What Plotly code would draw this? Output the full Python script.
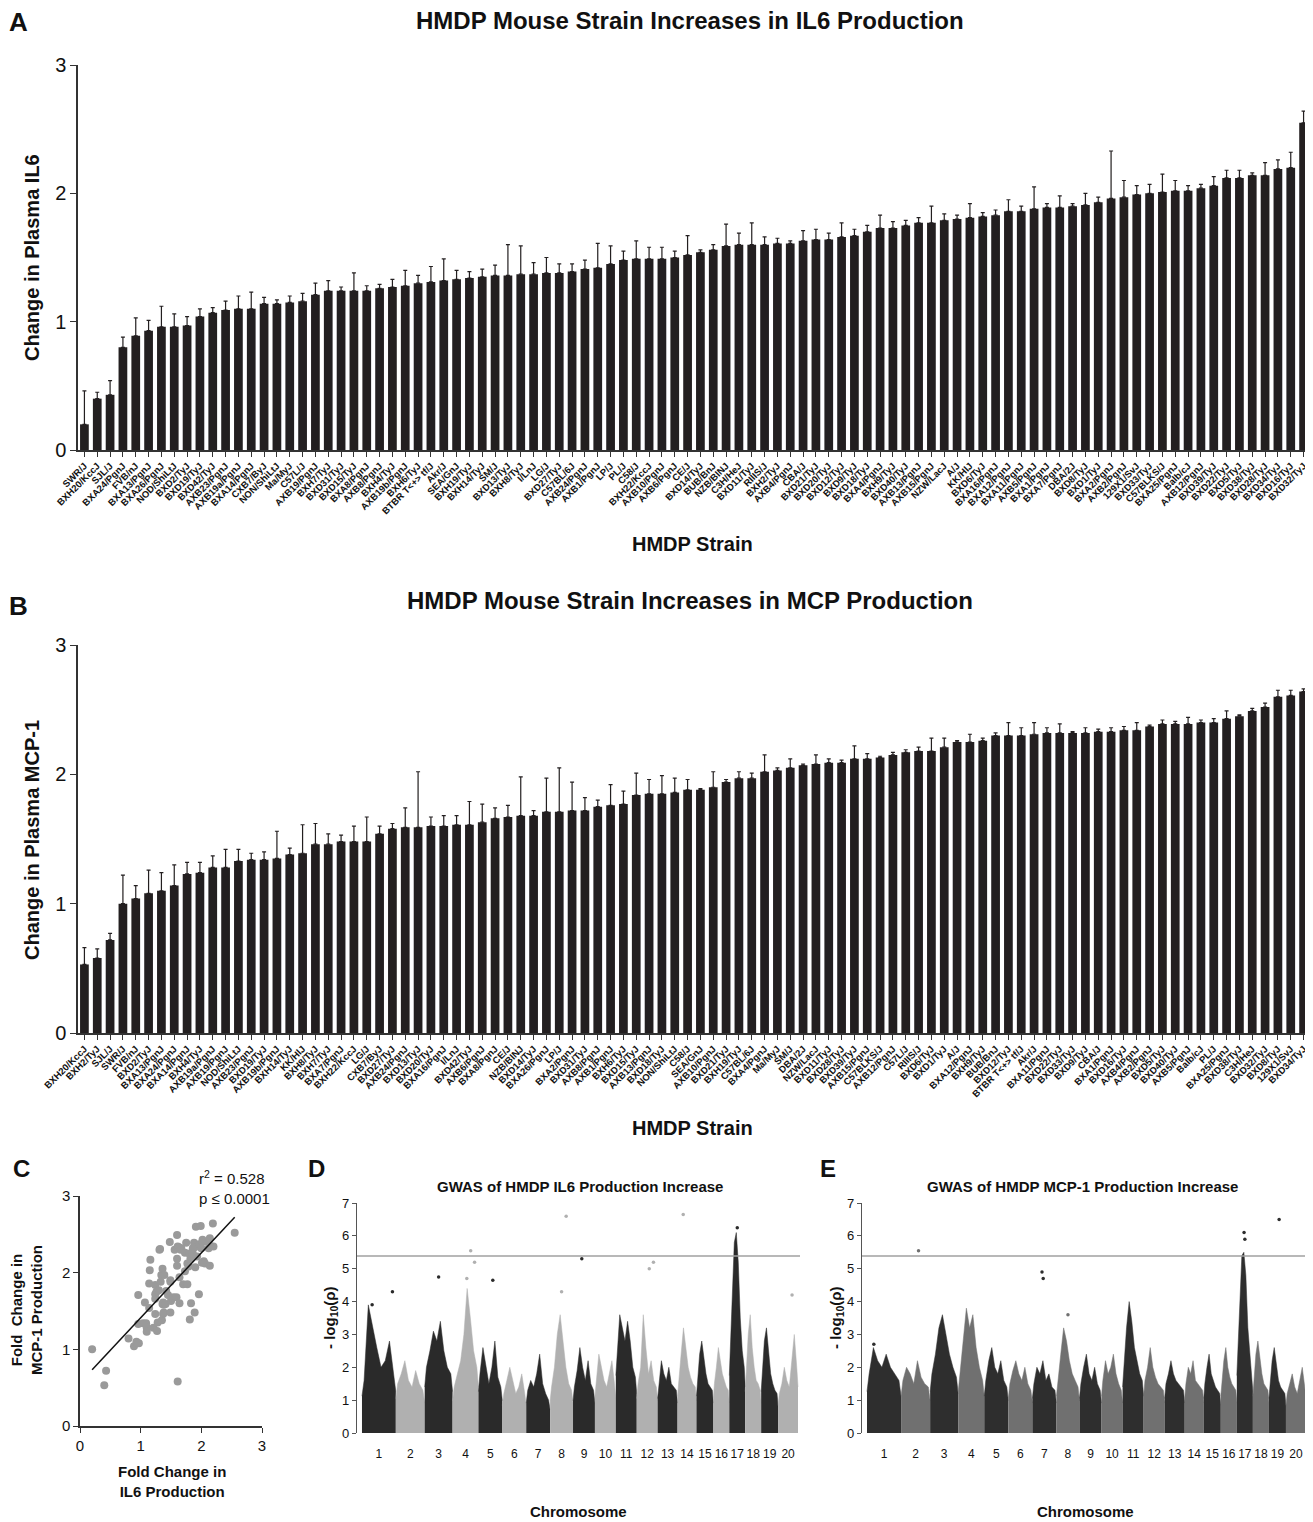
import numpy as np
import plotly.graph_objects as go

# page body has an 8px margin: lay out in reference-pixel coordinates, shifted by OFF
OFF = 8
W, H = 1313 - OFF, 1522 - OFF
FONT = "Liberation Sans, Arial, Helvetica, sans-serif"
BAR = "#231f20"
AX = "#333333"


def fx(px):
    return (px - OFF) / W


def fy(py):
    return 1 - (py - OFF) / H


# ---------------- Panel A data (IL6) ----------------
strains_il6 = ["SWR/J", "BXH20/KccJ", "SJL/J", "BXA24/PgnJ", "FVB/nJ", "BXA13/PgnJ", "BXA26/PgnJ",
               "NOD/ShiLtJ", "BXD2/TyJ", "BXD19/TyJ", "BXD42/TyJ", "AXB23/PgnJ", "AXB19a/PgnJ",
               "BXA14/PgnJ", "CXB7/ByJ", "NON/ShiLtJ", "Ma/MyJ", "C57L/J", "AXB19/PgnJ", "BXH7/TyJ",
               "BXD31/TyJ", "BXD15/TyJ", "BXA8/PgnJ", "AXB8/PgnJ", "BXH4/TyJ", "AXB19b/PgnJ",
               "BXH6/TyJ", "BTBR T&lt;+&gt; tf/J", "Akr/J", "SEA/GnJ", "BXH19/TyJ", "BXH14/TyJ", "SM/J",
               "BXD13/TyJ", "BXH8/TyJ", "I/LnJ", "LG/J", "BXD27/TyJ", "C57BL/6J", "AXB24/PgnJ",
               "AXB1/PgnJ", "LP/J", "PL/J", "C58/J", "BXH22/KccJ", "AXB10/PgnJ", "AXB6/PgnJ", "CE/J",
               "BXD14/TyJ", "BUB/BnJ", "NZB/BlNJ", "C3H/HeJ", "BXD11/TyJ", "RIIIS/J", "BXH2/TyJ",
               "AXB4/PgnJ", "CBA/J", "BXD21/TyJ", "BXD20/TyJ", "BXD12/TyJ", "BXD9/TyJ", "BXD18/TyJ",
               "BXA4/PgnJ", "BXH9/TyJ", "BXD40/TyJ", "AXB13/PgnJ", "AXB15/PgnJ", "NZW/LacJ", "A/J",
               "KK/HlJ", "BXD6/TyJ", "BXA16/PgnJ", "BXA12/PgnJ", "BXA11/PgnJ", "AXB5/PgnJ",
               "BXA1/PgnJ", "BXA7/PgnJ", "DBA/2J", "BXD8/TyJ", "BXD1/TyJ", "BXA2/PgnJ", "AXB2/PgnJ",
               "129X1/SvJ", "BXD33/TyJ", "C57BLKS/J", "BXA25/PgnJ", "Balb/cJ", "AXB12/PgnJ",
               "BXD39/TyJ", "BXD22/TyJ", "BXD5/TyJ", "BXD38/TyJ", "BXD28/TyJ", "BXD34/TyJ",
               "BXD16/TyJ", "BXD32/TyJ"]
il6_mean = [0.20, 0.40, 0.43, 0.80, 0.89, 0.93, 0.96, 0.96, 0.97, 1.04, 1.07, 1.09, 1.10, 1.10,
            1.14, 1.14, 1.15, 1.16, 1.21, 1.24, 1.24, 1.24, 1.24, 1.26, 1.27, 1.28, 1.30, 1.31,
            1.32, 1.33, 1.34, 1.35, 1.36, 1.36, 1.37, 1.37, 1.38, 1.38, 1.39, 1.41, 1.42, 1.45,
            1.48, 1.49, 1.49, 1.49, 1.50, 1.52, 1.54, 1.56, 1.59, 1.60, 1.60, 1.60, 1.61, 1.61,
            1.63, 1.64, 1.64, 1.66, 1.67, 1.70, 1.73, 1.73, 1.75, 1.77, 1.77, 1.79, 1.80, 1.81,
            1.82, 1.83, 1.86, 1.86, 1.88, 1.89, 1.89, 1.90, 1.91, 1.93, 1.96, 1.97, 1.99, 2.00,
            2.01, 2.02, 2.02, 2.04, 2.06, 2.12, 2.12, 2.14, 2.14, 2.19, 2.20, 2.55]
il6_sem = [0.26, 0.05, 0.11, 0.08, 0.14, 0.08, 0.16, 0.10, 0.07, 0.06, 0.04, 0.07, 0.10, 0.13,
           0.05, 0.03, 0.05, 0.06, 0.09, 0.08, 0.03, 0.14, 0.04, 0.03, 0.06, 0.12, 0.06, 0.12,
           0.17, 0.07, 0.05, 0.06, 0.08, 0.24, 0.22, 0.09, 0.12, 0.07, 0.06, 0.07, 0.19, 0.14,
           0.07, 0.14, 0.09, 0.09, 0.05, 0.15, 0.02, 0.04, 0.17, 0.09, 0.17, 0.06, 0.04, 0.02,
           0.08, 0.08, 0.05, 0.11, 0.05, 0.05, 0.10, 0.05, 0.04, 0.04, 0.13, 0.05, 0.03, 0.11,
           0.03, 0.04, 0.09, 0.04, 0.17, 0.03, 0.09, 0.02, 0.09, 0.04, 0.37, 0.13, 0.07, 0.07,
           0.14, 0.08, 0.04, 0.03, 0.07, 0.06, 0.06, 0.02, 0.10, 0.07, 0.12, 0.09]

# ---------------- Panel B data (MCP-1) ----------------
strains_mcp = ["BXH20/KccJ", "BXH2/TyJ", "SJL/J", "SWR/J", "FVB/nJ", "BXD2/TyJ", "BXA13/PgnJ",
               "BXA24/PgnJ", "BXA14/PgnJ", "BXH4/TyJ", "AXB19a/PgnJ", "AXB19/PgnJ", "NOD/ShiLtJ",
               "AXB23/PgnJ", "BXD19/TyJ", "AXB19b/PgnJ", "BXH14/TyJ", "KK/HlJ", "BXH8/TyJ",
               "BXH7/TyJ", "BXA7/PgnJ", "BXH22/KccJ", "LG/J", "CXB7/ByJ", "BXD27/TyJ", "AXB24/PgnJ",
               "BXD13/TyJ", "BXD20/TyJ", "BXA16/PgnJ", "I/LnJ", "BXD42/TyJ", "AXB6/PgnJ",
               "BXA8/PgnJ", "CE/J", "NZB/BlNJ", "BXD14/TyJ", "BXA26/PgnJ", "LP/J", "BXA2/PgnJ",
               "BXD31/TyJ", "AXB8/PgnJ", "AXB1/PgnJ", "BXH6/TyJ", "BXD15/TyJ", "AXB13/PgnJ",
               "BXD18/TyJ", "NON/ShiLtJ", "C58/J", "SEA/GnJ", "AXB10/PgnJ", "BXD21/TyJ",
               "BXH19/TyJ", "C57BL/6J", "BXA4/PgnJ", "Ma/MyJ", "SM/J", "DBA/2J", "NZW/LacJ",
               "BXD11/TyJ", "BXD28/TyJ", "BXD39/TyJ", "AXB15/PgnJ", "C57BLKS/J", "AXB12/PgnJ",
               "C57L/J", "RIIIS/J", "BXD6/TyJ", "BXD1/TyJ", "A/J", "BXA12/PgnJ", "BXH9/TyJ",
               "BUB/BnJ", "BXD12/TyJ", "BTBR T&lt;+&gt; tf/J", "Akr/J", "BXA11/PgnJ", "BXD22/TyJ",
               "BXD33/TyJ", "BXD9/TyJ", "CBA/J", "BXA1/PgnJ", "BXD16/TyJ", "AXB4/PgnJ",
               "AXB2/PgnJ", "BXD5/TyJ", "BXD40/TyJ", "AXB5/PgnJ", "Balb/cJ", "PL/J", "BXA25/PgnJ",
               "BXD38/TyJ", "C3H/HeJ", "BXD32/TyJ", "BXD8/TyJ", "129X1/SvJ", "BXD34/TyJ"]
mcp_mean = [0.53, 0.58, 0.72, 1.00, 1.04, 1.08, 1.10, 1.14, 1.23, 1.24, 1.28, 1.28, 1.33, 1.34,
            1.34, 1.35, 1.38, 1.39, 1.46, 1.46, 1.48, 1.48, 1.48, 1.54, 1.58, 1.59, 1.59, 1.60,
            1.60, 1.61, 1.61, 1.63, 1.66, 1.67, 1.68, 1.68, 1.71, 1.71, 1.72, 1.72, 1.75, 1.76,
            1.77, 1.84, 1.85, 1.85, 1.86, 1.88, 1.88, 1.90, 1.94, 1.97, 1.97, 2.02, 2.03, 2.05,
            2.07, 2.08, 2.09, 2.09, 2.12, 2.12, 2.13, 2.15, 2.17, 2.18, 2.18, 2.21, 2.25, 2.25,
            2.26, 2.30, 2.30, 2.30, 2.31, 2.32, 2.32, 2.32, 2.32, 2.33, 2.33, 2.34, 2.34, 2.37,
            2.39, 2.39, 2.39, 2.40, 2.40, 2.43, 2.45, 2.49, 2.52, 2.60, 2.61, 2.64]
mcp_sem = [0.13, 0.07, 0.05, 0.22, 0.10, 0.18, 0.14, 0.16, 0.09, 0.08, 0.09, 0.14, 0.09, 0.05,
           0.06, 0.21, 0.05, 0.22, 0.16, 0.08, 0.05, 0.12, 0.19, 0.06, 0.04, 0.15, 0.43, 0.07,
           0.08, 0.07, 0.18, 0.14, 0.08, 0.09, 0.30, 0.04, 0.26, 0.34, 0.22, 0.10, 0.05, 0.16,
           0.10, 0.17, 0.11, 0.14, 0.11, 0.08, 0.01, 0.12, 0.02, 0.05, 0.04, 0.13, 0.02, 0.07,
           0.01, 0.07, 0.03, 0.02, 0.10, 0.04, 0.01, 0.02, 0.02, 0.03, 0.10, 0.07, 0.01, 0.06,
           0.02, 0.02, 0.10, 0.06, 0.09, 0.04, 0.07, 0.01, 0.04, 0.02, 0.03, 0.03, 0.06, 0.01,
           0.03, 0.02, 0.05, 0.02, 0.03, 0.06, 0.01, 0.02, 0.03, 0.05, 0.04, 0.02]

# ---------------- Panel C ----------------
r2_text = "r<sup>2</sup> = 0.528<br>p ≤ 0.0001"

# ---------------- Panels D / E (Manhattan envelopes) ----------------
chrom_labels = [str(i) for i in range(1, 21)]
chrom_sizes = [34, 29, 28, 26, 24, 24, 24, 23, 22, 21, 21, 21, 20, 19, 17, 16, 16, 16, 17, 20]
threshold = 5.39

il6_env = [
    [1.6, 3.9, 3.2, 2.6, 2.0, 2.2, 2.8, 1.8],
    [1.5, 1.8, 2.2, 1.6, 1.4, 1.9, 1.5, 1.3],
    [2.0, 2.5, 3.1, 2.8, 3.4, 2.5, 2.0, 1.8],
    [1.4, 1.8, 2.2, 3.0, 4.4, 3.5, 2.5, 2.0],
    [1.8, 2.6, 2.0, 1.5, 2.0, 2.8, 1.7, 1.4],
    [1.2, 1.6, 2.0, 1.6, 1.2, 1.4, 1.8, 1.2],
    [1.3, 1.6, 1.4, 1.8, 2.4, 1.5, 1.2, 1.0],
    [1.4, 2.0, 3.0, 3.6, 2.8, 2.0, 1.5, 1.3],
    [1.4, 1.9, 2.6, 2.0, 1.6, 2.2, 1.5, 1.3],
    [1.6, 2.4, 2.0, 1.6, 1.4, 1.8, 2.2, 1.5],
    [2.5, 3.6, 3.2, 2.8, 3.4, 2.8, 2.0, 1.7],
    [1.5, 2.0, 3.6, 2.6, 1.8, 2.2, 1.6, 1.4],
    [1.5, 2.2, 1.8, 1.6, 2.0, 1.5, 1.4, 1.3],
    [1.6, 2.4, 3.2, 2.6, 2.0, 1.7, 1.5, 1.4],
    [1.6, 2.4, 2.8, 2.2, 1.8, 1.5, 1.4, 1.3],
    [1.5, 2.0, 2.6, 2.2, 1.8, 1.6, 1.4, 1.3],
    [2.5, 4.5, 5.8, 6.1, 5.2, 3.5, 2.5, 2.0],
    [1.8, 3.0, 3.6, 2.6, 2.0, 1.6, 1.5, 1.3],
    [1.8, 2.8, 3.2, 2.4, 1.8, 1.5, 1.3, 1.2],
    [1.2, 1.5, 2.0, 1.6, 1.4, 2.2, 3.0, 2.0],
]
il6_hits_chr = [1, 1, 3, 4, 4, 4, 5, 8, 8, 9, 12, 12, 14, 17, 20]
il6_hits_pos = [0.3, 0.9, 0.5, 0.55, 0.7, 0.85, 0.6, 0.5, 0.7, 0.4, 0.6, 0.8, 0.3, 0.5, 0.7]
il6_hits_val = [3.9, 4.3, 4.75, 4.7, 5.55, 5.2, 4.65, 4.3, 6.6, 5.3, 5.0, 5.2, 6.65, 6.25, 4.2]

mcp_env = [
    [1.8, 2.6, 2.2, 2.0, 2.4, 2.0, 1.8, 1.6],
    [1.6, 2.0, 1.8, 1.5, 2.2, 1.7, 1.5, 1.4],
    [1.8, 2.4, 3.2, 3.6, 3.0, 2.4, 2.0, 1.7],
    [1.8, 2.8, 3.8, 3.2, 3.6, 2.6, 2.0, 1.6],
    [1.6, 2.2, 2.6, 2.0, 1.8, 2.2, 1.6, 1.4],
    [1.5, 1.9, 2.2, 1.8, 1.6, 2.0, 1.5, 1.3],
    [1.5, 2.0, 1.8, 2.2, 1.6, 1.8, 1.4, 1.3],
    [1.6, 2.4, 3.2, 2.8, 2.2, 1.8, 1.6, 1.4],
    [1.5, 2.0, 2.4, 1.8, 1.6, 2.0, 1.5, 1.3],
    [1.6, 2.2, 1.8, 2.0, 2.4, 1.8, 1.5, 1.3],
    [2.0, 3.2, 4.0, 3.4, 2.6, 2.2, 1.8, 1.6],
    [1.6, 2.0, 2.6, 2.0, 1.7, 1.5, 1.4, 1.3],
    [1.5, 1.8, 2.2, 1.8, 1.6, 1.5, 1.4, 1.3],
    [1.5, 2.0, 1.8, 2.2, 1.6, 1.5, 1.4, 1.3],
    [1.5, 2.0, 2.4, 1.8, 1.6, 1.4, 1.3, 1.2],
    [1.6, 2.2, 2.6, 2.0, 1.7, 1.5, 1.4, 1.3],
    [2.5, 4.2, 5.4, 5.5, 4.8, 3.2, 2.4, 1.8],
    [1.6, 2.4, 2.8, 2.2, 1.8, 1.5, 1.4, 1.3],
    [1.5, 2.2, 2.6, 2.0, 1.6, 1.4, 1.3, 1.2],
    [1.2, 1.5, 1.8, 1.4, 1.2, 1.6, 2.0, 1.4],
]
mcp_hits_chr = [1, 2, 7, 7, 8, 17, 17, 19]
mcp_hits_pos = [0.2, 0.6, 0.4, 0.45, 0.5, 0.45, 0.5, 0.6]
mcp_hits_val = [2.7, 5.55, 4.9, 4.7, 3.6, 6.1, 5.9, 6.5]

fig = go.Figure()

# ---- A ----
fig.add_trace(go.Bar(
    x=strains_il6, y=il6_mean, xaxis="x", yaxis="y",
    marker=dict(color=BAR, line=dict(width=0)),
    error_y=dict(type="data", symmetric=False, array=il6_sem, arrayminus=[0] * len(il6_sem),
                 color=BAR, thickness=1.2, width=2),
))
# ---- B ----
fig.add_trace(go.Bar(
    x=strains_mcp, y=mcp_mean, xaxis="x2", yaxis="y2",
    marker=dict(color=BAR, line=dict(width=0)),
    error_y=dict(type="data", symmetric=False, array=mcp_sem, arrayminus=[0] * len(mcp_sem),
                 color=BAR, thickness=1.2, width=2),
))

# ---- C ----
mcp_lookup = dict(zip(strains_mcp, mcp_mean))
cx = np.array(il6_mean)
cy = np.array([mcp_lookup[s] for s in strains_il6])
fig.add_trace(go.Scatter(
    x=cx, y=cy, mode="markers", xaxis="x3", yaxis="y3",
    marker=dict(color="#9a9a9a", size=8, line=dict(width=0)),
))
slope, intercept = np.polyfit(cx, cy, 1)
lx = np.array([cx.min(), cx.max()])
fig.add_trace(go.Scatter(
    x=lx, y=slope * lx + intercept, mode="lines", xaxis="x3", yaxis="y3",
    line=dict(color="#111111", width=1.5),
))

# ---- D / E ----
starts = np.concatenate([[0], np.cumsum(chrom_sizes)[:-1]])
centers = starts + np.array(chrom_sizes) / 2.0


def manhattan(env, hits_chr, hits_pos, hits_val, xa, ya, dark, light):
    for i, vals in enumerate(env):
        n = len(vals)
        s, w = starts[i], chrom_sizes[i]
        xs = [s] + [s + (k + 0.5) * w / n for k in range(n)] + [s + w]
        ys = [vals[0] * 0.7] + list(vals) + [vals[-1] * 0.7]
        col = dark if i % 2 == 0 else light
        fig.add_trace(go.Scatter(
            x=xs, y=ys, mode="lines", fill="tozeroy", fillcolor=col,
            line=dict(color=col, width=0.5), xaxis=xa, yaxis=ya,
        ))
    hx = [starts[c - 1] + p * chrom_sizes[c - 1] for c, p in zip(hits_chr, hits_pos)]
    hcol = [dark if (c - 1) % 2 == 0 else light for c in hits_chr]
    fig.add_trace(go.Scatter(
        x=hx, y=hits_val, mode="markers", xaxis=xa, yaxis=ya,
        marker=dict(color=hcol, size=3.5, line=dict(width=0)),
    ))


manhattan(il6_env, il6_hits_chr, il6_hits_pos, il6_hits_val, "x4", "y4", "#2a2a2a", "#b0b0b0")
manhattan(mcp_env, mcp_hits_chr, mcp_hits_pos, mcp_hits_val, "x5", "y5", "#2e2e2e", "#707070")

total = float(sum(chrom_sizes))

bar_x_common = dict(
    type="category", tickangle=-45, showline=True, linecolor=AX, linewidth=1.5,
    ticks="outside", ticklen=5, tickcolor=AX, tickwidth=1.2,
    tickfont=dict(family=FONT, size=9.5, color="#111111", weight="bold"),
    showgrid=False, zeroline=False, range=[-0.5, 95.5], automargin=False,
)
bar_y_common = dict(
    range=[0, 3], dtick=1, showline=True, linecolor=AX, linewidth=1.5,
    ticks="outside", ticklen=6, tickcolor=AX, tickwidth=1.2,
    tickfont=dict(family=FONT, size=20, color="#111111"),
    showgrid=False, zeroline=False, automargin=False,
)

layout = dict(
    width=W, height=H, margin=dict(l=0, r=0, t=0, b=0),
    paper_bgcolor="white", plot_bgcolor="white", showlegend=False,
    template="none", bargap=0.32,
    xaxis=dict(domain=[fx(78), fx(1310)], anchor="y", **bar_x_common),
    yaxis=dict(domain=[fy(450), fy(65)], anchor="x", **bar_y_common),
    xaxis2=dict(domain=[fx(78), fx(1310)], anchor="y2", **bar_x_common),
    yaxis2=dict(domain=[fy(1033), fy(645)], anchor="x2", **bar_y_common),
    xaxis3=dict(domain=[fx(80), fx(262)], anchor="y3", range=[0, 3], dtick=1,
                showline=True, linecolor=AX, linewidth=1.5, ticks="outside", ticklen=5,
                tickcolor=AX, tickfont=dict(family=FONT, size=15, color="#111"),
                showgrid=False, zeroline=False, automargin=False),
    yaxis3=dict(domain=[fy(1426), fy(1196)], anchor="x3", range=[0, 3], dtick=1,
                showline=True, linecolor=AX, linewidth=1.5, ticks="outside", ticklen=5,
                tickcolor=AX, tickfont=dict(family=FONT, size=15, color="#111"),
                showgrid=False, zeroline=False, automargin=False),
)
for xa, ya, x0, x1 in [("xaxis4", "yaxis4", 357, 800), ("xaxis5", "yaxis5", 862, 1308)]:
    n = xa[-1]
    layout[xa] = dict(domain=[fx(x0), fx(x1)], anchor="y" + n, range=[-5, total + 2],
                      tickmode="array", tickvals=list(centers), ticktext=chrom_labels,
                      tickangle=0, showline=False, ticks="", showgrid=False, zeroline=False,
                      ticklabelstandoff=12,
                      tickfont=dict(family=FONT, size=12, color="#111"), automargin=False)
    layout[ya] = dict(domain=[fy(1433), fy(1203)], anchor="x" + n, range=[0, 7], dtick=1,
                      showline=True, linecolor="#555", linewidth=1.2, ticks="outside", ticklen=4,
                      tickcolor="#555", tickfont=dict(family=FONT, size=13, color="#111"),
                      showgrid=False, zeroline=False, automargin=False)
fig.update_layout(**layout)

fig.update_traces(cliponaxis=False, selector=dict(type="scatter"))

shapes = []
for yref, xref in [("y4", "x4 domain"), ("y5", "x5 domain")]:
    shapes.append(dict(type="line", xref=xref, yref=yref, x0=0, x1=1, y0=threshold, y1=threshold,
                       line=dict(color="#a0a0a0", width=1.5)))
fig.update_layout(shapes=shapes)


def ann(text, x, y, size, bold=True, angle=0, xanchor="center", yanchor="middle", align="center"):
    return dict(text=text, x=fx(x), y=fy(y), xref="paper", yref="paper", showarrow=False,
                textangle=angle, xanchor=xanchor, yanchor=yanchor, align=align,
                font=dict(family=FONT, size=size, color="#111111",
                          weight="bold" if bold else "normal"))


annotations = [
    ann("A", 18, 22, 26), ann("B", 18, 606, 26), ann("C", 22, 1168, 24),
    ann("D", 316, 1168, 24), ann("E", 828, 1168, 24),
    ann("HMDP Mouse Strain Increases in IL6 Production", 690, 20, 24),
    ann("HMDP Mouse Strain Increases in MCP Production", 690, 600, 24),
    ann("Change in Plasma IL6", 32, 258, 20, angle=-90),
    ann("Change in Plasma MCP-1", 32, 840, 20, angle=-90),
    ann("HMDP Strain", 692, 544, 20),
    ann("HMDP Strain", 692, 1128, 20),
    ann("Fold  Change in<br>MCP-1 Production", 26, 1310, 15, angle=-90),
    ann("Fold Change in<br>IL6 Production", 172, 1481, 15),
    ann(r2_text, 272, 1187, 15, bold=False, xanchor="right", align="left"),
    ann("GWAS of HMDP IL6 Production Increase", 580, 1186, 15),
    ann("GWAS of HMDP MCP-1 Production Increase", 1082, 1186, 15),
    ann("- log<sub>10</sub>(ρ)", 330, 1318, 15, angle=-90),
    ann("- log<sub>10</sub>(ρ)", 836, 1318, 15, angle=-90),
    ann("Chromosome", 578, 1511, 15),
    ann("Chromosome", 1085, 1511, 15),
]
fig.update_layout(annotations=annotations)

fig.write_html("out.html")
